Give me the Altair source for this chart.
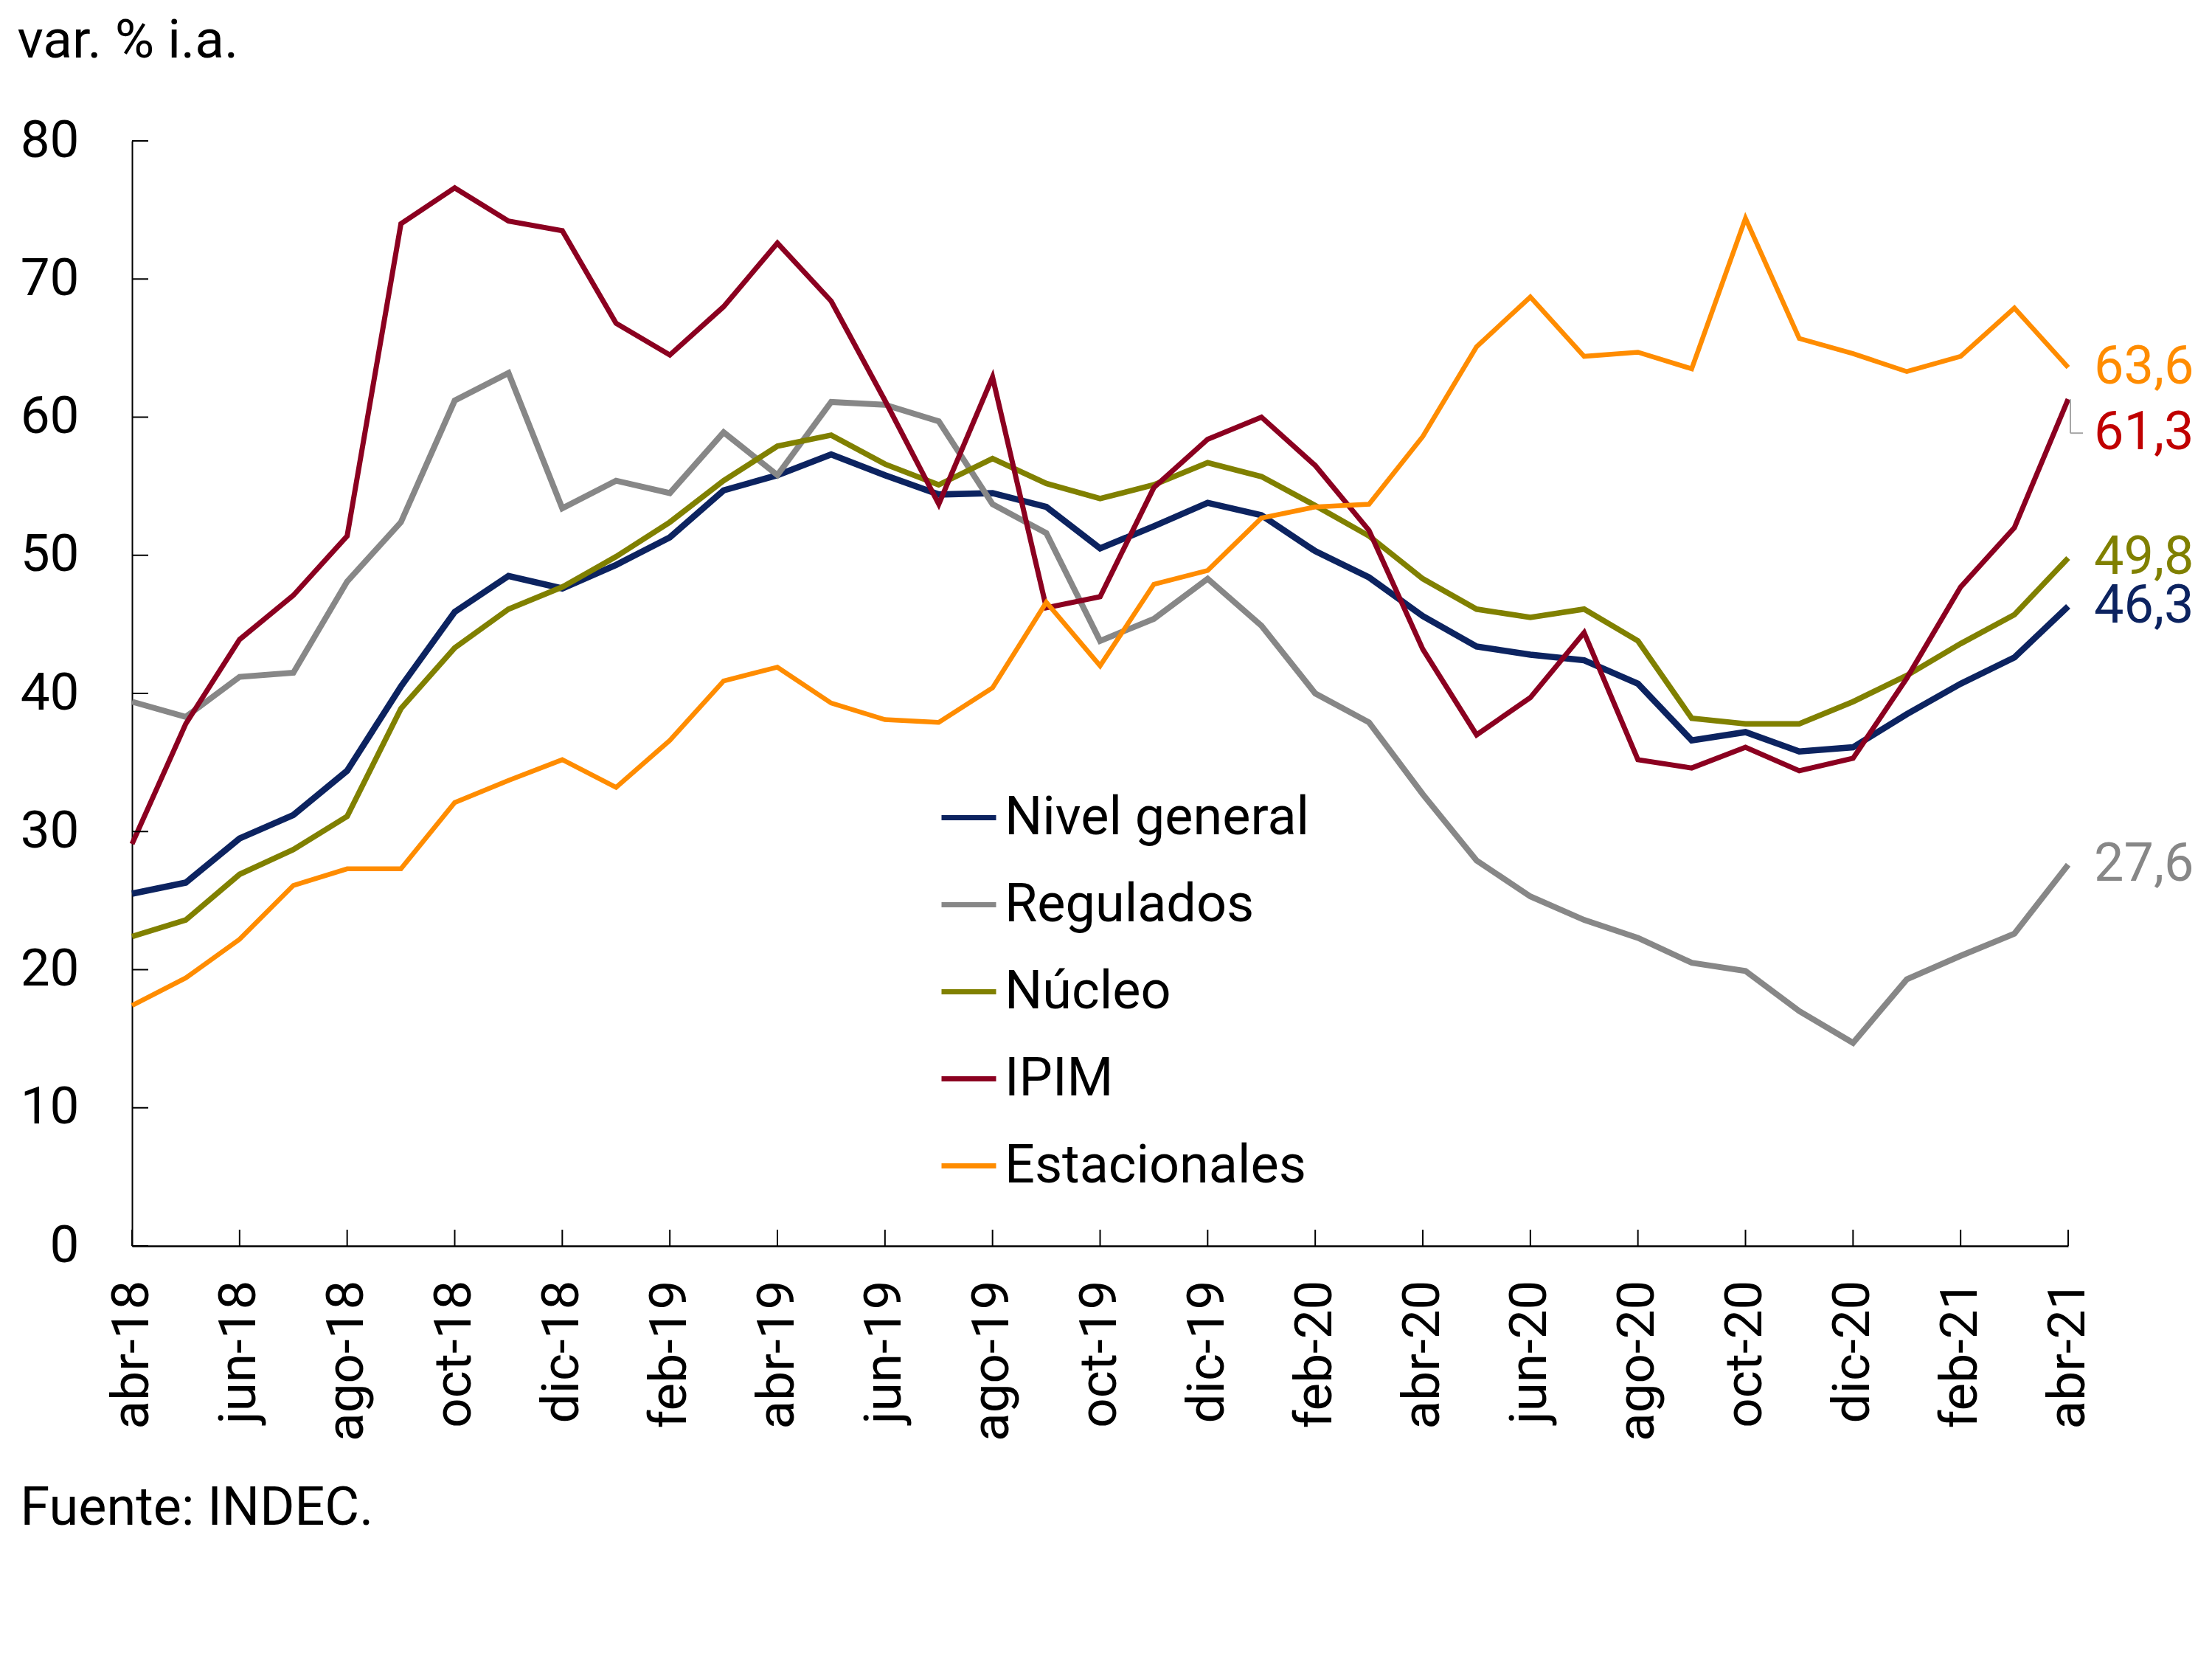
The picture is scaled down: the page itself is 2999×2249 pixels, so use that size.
import altair as alt
import pandas as pd

months = ["abr-18","may-18","jun-18","jul-18","ago-18","sep-18","oct-18","nov-18","dic-18",
          "ene-19","feb-19","mar-19","abr-19","may-19","jun-19","jul-19","ago-19","sep-19","oct-19","nov-19","dic-19",
          "ene-20","feb-20","mar-20","abr-20","may-20","jun-20","jul-20","ago-20","sep-20","oct-20","nov-20","dic-20",
          "ene-21","feb-21","mar-21","abr-21"]

nivel_general = [25.5, 26.3, 29.5, 31.2, 34.4, 40.5, 45.9, 48.5, 47.6, 49.3, 51.3, 54.7, 55.8, 57.3, 55.8, 54.4,
                 54.5, 53.5, 50.5, 52.1, 53.8, 52.9, 50.3, 48.4, 45.6, 43.4, 42.8, 42.4, 40.7, 36.6, 37.2, 35.8,
                 36.1, 38.5, 40.7, 42.6, 46.3]
regulados = [39.4, 38.3, 41.2, 41.5, 48.1, 52.4, 61.2, 63.2, 53.4, 55.4, 54.5, 58.9, 55.8, 61.1, 60.9, 59.7,
             53.7, 51.6, 43.8, 45.4, 48.3, 44.9, 40.0, 37.9, 32.7, 27.9, 25.3, 23.6, 22.3, 20.5, 19.9, 17.0,
             14.7, 19.3, 21.0, 22.6, 27.6]
nucleo = [22.4, 23.6, 26.9, 28.7, 31.1, 38.9, 43.3, 46.1, 47.7, 49.9, 52.4, 55.4, 57.9, 58.7, 56.6, 55.1,
          57.0, 55.2, 54.1, 55.1, 56.7, 55.7, 53.6, 51.4, 48.3, 46.1, 45.5, 46.1, 43.8, 38.2, 37.8, 37.8,
          39.4, 41.3, 43.6, 45.7, 49.8]
ipim = [29.1, 37.8, 43.9, 47.1, 51.4, 74.0, 76.6, 74.2, 73.5, 66.8, 64.5, 68.0, 72.6, 68.4, 61.2, 53.7,
        62.9, 46.2, 47.0, 54.9, 58.4, 60.0, 56.5, 51.8, 43.2, 37.0, 39.7, 44.4, 35.2, 34.6, 36.1, 34.4,
        35.3, 41.1, 47.7, 52.0, 61.3]
estacionales = [17.4, 19.4, 22.2, 26.1, 27.3, 27.3, 32.1, 33.7, 35.2, 33.2, 36.6, 40.9, 41.9, 39.3, 38.1, 37.9,
                40.4, 46.6, 42.0, 47.9, 48.9, 52.7, 53.5, 53.7, 58.6, 65.1, 68.7, 64.4, 64.7, 63.5, 74.4, 65.7,
                64.6, 63.3, 64.4, 67.9, 63.6]

series = ["Nivel general", "Regulados", "Núcleo", "IPIM", "Estacionales"]
line_colors = ["#0C2360", "#878787", "#808000", "#8B0020", "#FF8C00"]
label_colors = ["#0C2360", "#878787", "#808000", "#C00000", "#FF8C00"]
line_widths = [8.5, 6.5, 6.5, 6.5, 6.5]
end_labels = ["46,3", "27,6", "49,8", "61,3", "63,6"]
y_ticks = [0, 10, 20, 30, 40, 50, 60, 70, 80]
x_ticks = months[::2]

values = [nivel_general, regulados, nucleo, ipim, estacionales]
rows = []
for s, vals in zip(series, values):
    for m, v in zip(months, vals):
        rows.append({"mes": m, "serie": s, "valor": v})
df = pd.DataFrame(rows)
df["orden"] = df["serie"].map({s: i for i, s in enumerate(reversed(series))})

last = pd.DataFrame({"mes": [months[-1]] * len(series), "serie": series,
                     "valor": [v[-1] for v in values], "etiqueta": end_labels, "c": label_colors})

W, H = 2625, 1498
FONT = "Roboto"

xscale = alt.Scale(type="point", domain=months, padding=0)
yscale = alt.Scale(domain=[0, 80], nice=False, zero=True)

x_enc = alt.X("mes:O", scale=xscale,
              axis=alt.Axis(values=x_ticks, labelAngle=-90, labelAlign="right", labelBaseline="middle",
                            labelFontSize=71, labelPadding=46, tickSize=0, labelColor="black", labelLimit=0,
                            domainColor="black", domainWidth=2.5, labelOverlap=False, labelFlush=False,
                            title="Fuente: INDEC.", titleAngle=0, titleAlign="left", titleBaseline="alphabetic",
                            titleX=-152, titleY=377, titleFontSize=72, titleFontWeight="normal",
                            titleColor="black", titleLimit=0))
y_enc = alt.Y("valor:Q", scale=yscale,
              axis=alt.Axis(values=y_ticks, tickSize=0, labelFontSize=71, labelPadding=72, labelColor="black",
                            domainColor="black", domainWidth=2, grid=False,
                            title="var. % i.a.", titleAngle=0, titleAlign="left", titleBaseline="alphabetic",
                            titleX=-156, titleY=-114, titleFontSize=73, titleFontWeight="normal",
                            titleColor="black", titleLimit=0))

lines = alt.Chart(df).mark_line(strokeCap="butt", strokeJoin="miter").encode(
    x=x_enc,
    y=y_enc,
    color=alt.Color("serie:N", scale=alt.Scale(domain=series, range=line_colors),
                    legend=alt.Legend(title=None, orient="none", legendX=1094, legendY=877,
                                      symbolType="stroke", symbolSize=5476, symbolStrokeWidth=7,
                                      labelFontSize=72, labelOffset=8, rowPadding=41, labelLimit=0,
                                      labelColor="black", labelFont=FONT)),
    strokeWidth=alt.StrokeWidth("serie:N", scale=alt.Scale(domain=series, range=line_widths), legend=None),
    order=alt.Order("orden:Q"),
)

ytick_layer = alt.Chart(pd.DataFrame({"v": y_ticks})).mark_rule(color="black", strokeWidth=2).encode(
    y=alt.Y("v:Q", scale=yscale), x=alt.value(0), x2=alt.value(22))
xtick_layer = alt.Chart(pd.DataFrame({"mes": x_ticks})).mark_rule(color="black", strokeWidth=2).encode(
    x=alt.X("mes:O", scale=xscale), y=alt.value(H - 22), y2=alt.value(H))

lab_main = alt.Chart(last[last.serie != "IPIM"]).mark_text(align="left", baseline="middle", dx=35,
                                                          fontSize=72, font=FONT).encode(
    x=alt.X("mes:O", scale=xscale), y=alt.Y("valor:Q", scale=yscale), text="etiqueta:N",
    color=alt.Color("c:N", scale=None))
lab_ipim = alt.Chart(last[last.serie == "IPIM"]).mark_text(align="left", baseline="middle", dx=35, dy=46,
                                                          fontSize=72, font=FONT).encode(
    x=alt.X("mes:O", scale=xscale), y=alt.Y("valor:Q", scale=yscale), text="etiqueta:N",
    color=alt.Color("c:N", scale=None))

base_ipim = alt.Chart(last[last.serie == "IPIM"])
lead_v = base_ipim.mark_rule(color="#A6A6A6", strokeWidth=2, xOffset=3, y2Offset=46).encode(
    x=alt.X("mes:O", scale=xscale), y=alt.Y("valor:Q", scale=yscale), y2="valor:Q")
lead_h = base_ipim.mark_rule(color="#A6A6A6", strokeWidth=2, xOffset=3, x2Offset=20, yOffset=46, y2Offset=46).encode(
    x=alt.X("mes:O", scale=xscale), x2="mes:O", y=alt.Y("valor:Q", scale=yscale))

chart = alt.layer(lines, ytick_layer, xtick_layer, lead_v, lead_h, lab_main, lab_ipim).properties(
    width=W, height=H,
    autosize=alt.AutoSizeParams(type="none"),
    padding={"left": 171, "top": 183, "right": 180, "bottom": 540},
).configure(font=FONT).configure_view(stroke=None).resolve_scale(color="independent")

chart.save("out.html", embed_options={"renderer": "svg", "actions": False})
